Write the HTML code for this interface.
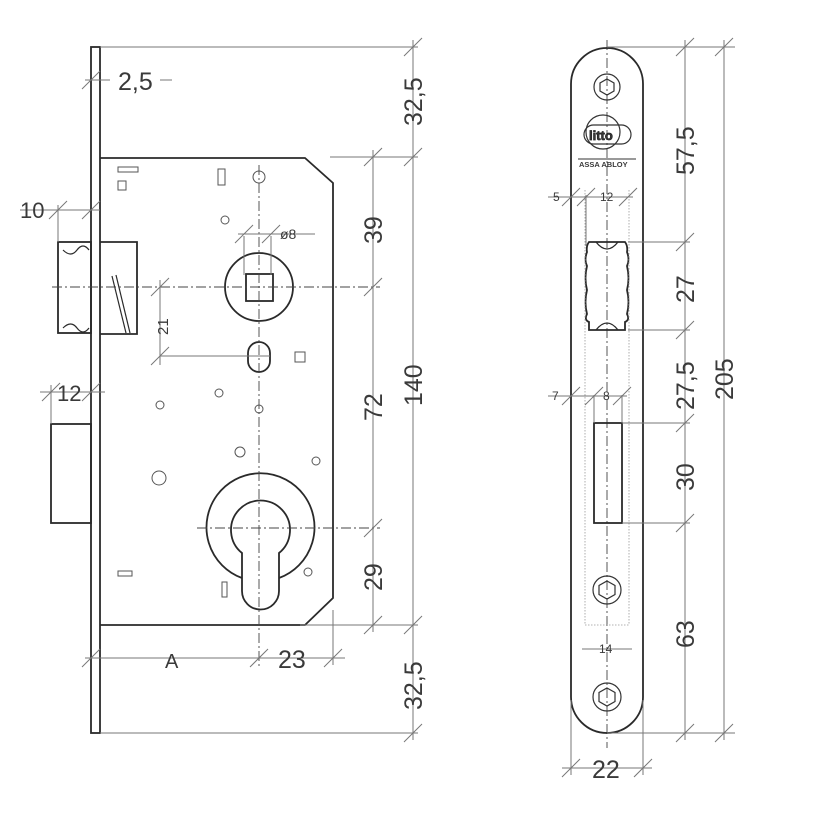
<!DOCTYPE html>
<html><head><meta charset="utf-8"><style>
html,body{margin:0;padding:0;background:#fff}
svg{display:block}
text{font-family:"Liberation Sans",sans-serif;fill:#3a3a3a}
</style></head><body>
<svg width="825" height="825" viewBox="0 0 825 825" xmlns="http://www.w3.org/2000/svg">
<defs>
<g id="tk"><line x1="-9" y1="9" x2="9" y2="-9" stroke="#777" stroke-width="1"/></g>
</defs>
<g fill="none" stroke="#2a2a2a" stroke-width="1.8">
<rect x="91" y="47" width="9" height="686"/>
<path d="M100 158 H305 L333 183 V598 L305 625 H100"/>
<rect x="58" y="242" width="33" height="91"/>
<path d="M100 242 H137 V334 H100"/>
<path d="M63 250 q8 8 14 0 q6 -8 12 0" stroke-width="1.2"/>
<path d="M63 328 q8 -8 14 0 q6 8 12 0" stroke-width="1.2"/>
<line x1="116" y1="275" x2="130" y2="333" stroke-width="1.2"/>
<line x1="112" y1="276" x2="126" y2="333" stroke-width="1.2"/>
<rect x="51" y="424" width="40" height="99"/>
<circle cx="259" cy="287" r="34"/>
<rect x="246" y="274" width="27" height="27"/>
<rect x="248" y="342" width="22" height="30" rx="11"/>
<path d="M242 578 A54 54 0 1 1 279 578"/>
<path d="M242 553 A29.5 29.5 0 1 1 279 553 V591 A18.5 18.5 0 0 1 242 591 Z"/>
</g>
<g fill="none" stroke="#555" stroke-width="1">
<rect x="118" y="181" width="8" height="9"/>
<rect x="118" y="167" width="20" height="5"/>
<rect x="218" y="169" width="7" height="16"/>
<circle cx="259" cy="177" r="6"/>
<circle cx="225" cy="220" r="4"/>
<rect x="295" y="352" width="10" height="10"/>
<circle cx="219" cy="393" r="4"/>
<circle cx="160" cy="405" r="4"/>
<circle cx="259" cy="409" r="4"/>
<circle cx="240" cy="452" r="5"/>
<circle cx="316" cy="461" r="4"/>
<circle cx="159" cy="478" r="7"/>
<circle cx="308" cy="572" r="4"/>
<rect x="118" y="571" width="14" height="5"/>
<rect x="222" y="582" width="5" height="15"/>
</g>
<g stroke="#444" stroke-width="0.9" stroke-dasharray="10,3,2,3" fill="none">
<line x1="259" y1="165" x2="259" y2="668"/>
<line x1="52" y1="287" x2="380" y2="287"/>
<line x1="197" y1="528" x2="380" y2="528"/>
<line x1="607" y1="40" x2="607" y2="748"/>
</g>
<g stroke="#777" stroke-width="1" fill="none">
<line x1="100" y1="47" x2="418" y2="47"/>
<line x1="330" y1="157" x2="418" y2="157"/>
<line x1="300" y1="625" x2="418" y2="625"/>
<line x1="100" y1="733" x2="418" y2="733"/>
<line x1="413" y1="40" x2="413" y2="740"/>
<line x1="373" y1="150" x2="373" y2="632"/>
<line x1="85" y1="658" x2="345" y2="658"/>
<line x1="333" y1="610" x2="333" y2="665"/>
<line x1="160" y1="280" x2="160" y2="365"/>
<line x1="160" y1="356" x2="270" y2="356"/>
<line x1="244" y1="236" x2="244" y2="275"/>
<line x1="271" y1="236" x2="271" y2="275"/>
<line x1="238" y1="234" x2="315" y2="234"/>
<line x1="20" y1="210" x2="100" y2="210"/>
<line x1="58" y1="205" x2="58" y2="242"/>
<line x1="40" y1="392" x2="105" y2="392"/>
<line x1="51" y1="385" x2="51" y2="424"/>
<line x1="85" y1="80" x2="110" y2="80"/>
<line x1="160" y1="80" x2="172" y2="80"/>
</g>
<g>
<use href="#tk" x="413" y="47"/><use href="#tk" x="413" y="157"/><use href="#tk" x="373" y="157"/>
<use href="#tk" x="373" y="287"/><use href="#tk" x="373" y="528"/><use href="#tk" x="373" y="625"/>
<use href="#tk" x="413" y="625"/><use href="#tk" x="413" y="733"/>
<use href="#tk" x="91" y="658"/><use href="#tk" x="259" y="658"/><use href="#tk" x="333" y="658"/>
<use href="#tk" x="160" y="287"/><use href="#tk" x="160" y="356"/>
<use href="#tk" x="244" y="234"/><use href="#tk" x="271" y="234"/>
<use href="#tk" x="58" y="210"/><use href="#tk" x="91" y="210"/>
<use href="#tk" x="51" y="392"/><use href="#tk" x="91" y="392"/>
<use href="#tk" x="91" y="80"/>
</g>
<g font-size="25">
<text x="118" y="90">2,5</text>
<text x="20" y="218" font-size="22">10</text>
<text x="57" y="401" font-size="22">12</text>
<text x="165" y="668" font-size="20">A</text>
<text x="278" y="668">23</text>
<text transform="translate(422,126) rotate(-90)">32,5</text>
<text transform="translate(382,244) rotate(-90)">39</text>
<text transform="translate(382,421) rotate(-90)">72</text>
<text transform="translate(422,406) rotate(-90)">140</text>
<text transform="translate(382,591) rotate(-90)">29</text>
<text transform="translate(422,710) rotate(-90)">32,5</text>
<text transform="translate(168,335) rotate(-90)" font-size="15">21</text>
<text x="280" y="239" font-size="14">ø8</text>
</g>
<g fill="none" stroke="#2a2a2a" stroke-width="1.8">
<path d="M571 697 V84 A36 36 0 0 1 643 84 V697 A36 36 0 0 1 571 697 Z"/>
<path d="M589 242 q-3 4 -2 10 q-3 8 0 14 q-3 12 0 24 q-3 12 0 24 q-3 6 2 8 v8 h36 v-8 q5 -2 2 -8 q3 -12 0 -24 q3 -12 0 -24 q3 -6 0 -14 q1 -6 -2 -10 Z"/>
<path d="M596 242 q11 14 22 0" stroke-width="1.3"/>
<path d="M596 330 q11 -14 22 0" stroke-width="1.3"/>
<rect x="594" y="423" width="28" height="100"/>
</g>
<g fill="none" stroke="#333" stroke-width="1.2">
<circle cx="607" cy="87" r="13"/><path d="M607 79 l7 4 v8 l-7 4 l-7 -4 v-8 Z"/>
<circle cx="607" cy="590" r="14"/><path d="M607 581 l8 4.5 v9 l-8 4.5 l-8 -4.5 v-9 Z"/>
<circle cx="607" cy="697" r="14"/><path d="M607 688 l8 4.5 v9 l-8 4.5 l-8 -4.5 v-9 Z"/>
<circle cx="603" cy="132" r="17"/>
<rect x="584" y="125" width="47" height="19" rx="9.5"/>
</g>
<text x="589" y="140" font-size="13" font-weight="bold" fill="#fff" stroke="#222" stroke-width="0.7">litto</text>
<text x="579" y="167" font-size="7.5" font-weight="bold">ASSA ABLOY</text>
<line x1="578" y1="159" x2="636" y2="159" stroke="#333" stroke-width="1"/>
<g stroke="#999" stroke-width="0.8" stroke-dasharray="1.5,1.5" fill="none">
<line x1="585" y1="190" x2="585" y2="625"/>
<line x1="629" y1="190" x2="629" y2="625"/>
<line x1="585" y1="625" x2="629" y2="625"/>
</g>
<g stroke="#777" stroke-width="1" fill="none">
<line x1="607" y1="47" x2="735" y2="47"/>
<line x1="628" y1="242" x2="690" y2="242"/>
<line x1="628" y1="330" x2="690" y2="330"/>
<line x1="622" y1="423" x2="690" y2="423"/>
<line x1="622" y1="523" x2="690" y2="523"/>
<line x1="607" y1="733" x2="735" y2="733"/>
<line x1="685" y1="40" x2="685" y2="740"/>
<line x1="724" y1="40" x2="724" y2="740"/>
<line x1="571" y1="700" x2="571" y2="775"/>
<line x1="643" y1="700" x2="643" y2="775"/>
<line x1="562" y1="768" x2="652" y2="768"/>
<line x1="586" y1="195" x2="586" y2="246"/>
<line x1="548" y1="197" x2="633" y2="197"/>
<line x1="594" y1="395" x2="594" y2="423"/>
<line x1="622" y1="395" x2="622" y2="423"/>
<line x1="548" y1="396" x2="627" y2="396"/>
<line x1="582" y1="649" x2="632" y2="649"/>
</g>
<g>
<use href="#tk" x="685" y="47"/><use href="#tk" x="724" y="47"/>
<use href="#tk" x="685" y="242"/><use href="#tk" x="685" y="330"/>
<use href="#tk" x="685" y="423"/><use href="#tk" x="685" y="523"/>
<use href="#tk" x="685" y="733"/><use href="#tk" x="724" y="733"/>
<use href="#tk" x="571" y="768"/><use href="#tk" x="643" y="768"/>
<use href="#tk" x="571" y="197"/><use href="#tk" x="586" y="197"/><use href="#tk" x="628" y="197"/>
<use href="#tk" x="571" y="396"/><use href="#tk" x="594" y="396"/><use href="#tk" x="622" y="396"/>
</g>
<g font-size="25">
<text transform="translate(694,175) rotate(-90)">57,5</text>
<text transform="translate(694,303) rotate(-90)">27</text>
<text transform="translate(694,410) rotate(-90)">27,5</text>
<text transform="translate(694,491) rotate(-90)">30</text>
<text transform="translate(694,648) rotate(-90)">63</text>
<text transform="translate(733,400) rotate(-90)">205</text>
<text x="592" y="778">22</text>
<text x="553" y="201" font-size="12">5</text>
<text x="600" y="201" font-size="12">12</text>
<text x="552" y="400" font-size="12">7</text>
<text x="603" y="400" font-size="12">8</text>
<text x="599" y="653" font-size="12">14</text>
</g>
</svg>
</body></html>
